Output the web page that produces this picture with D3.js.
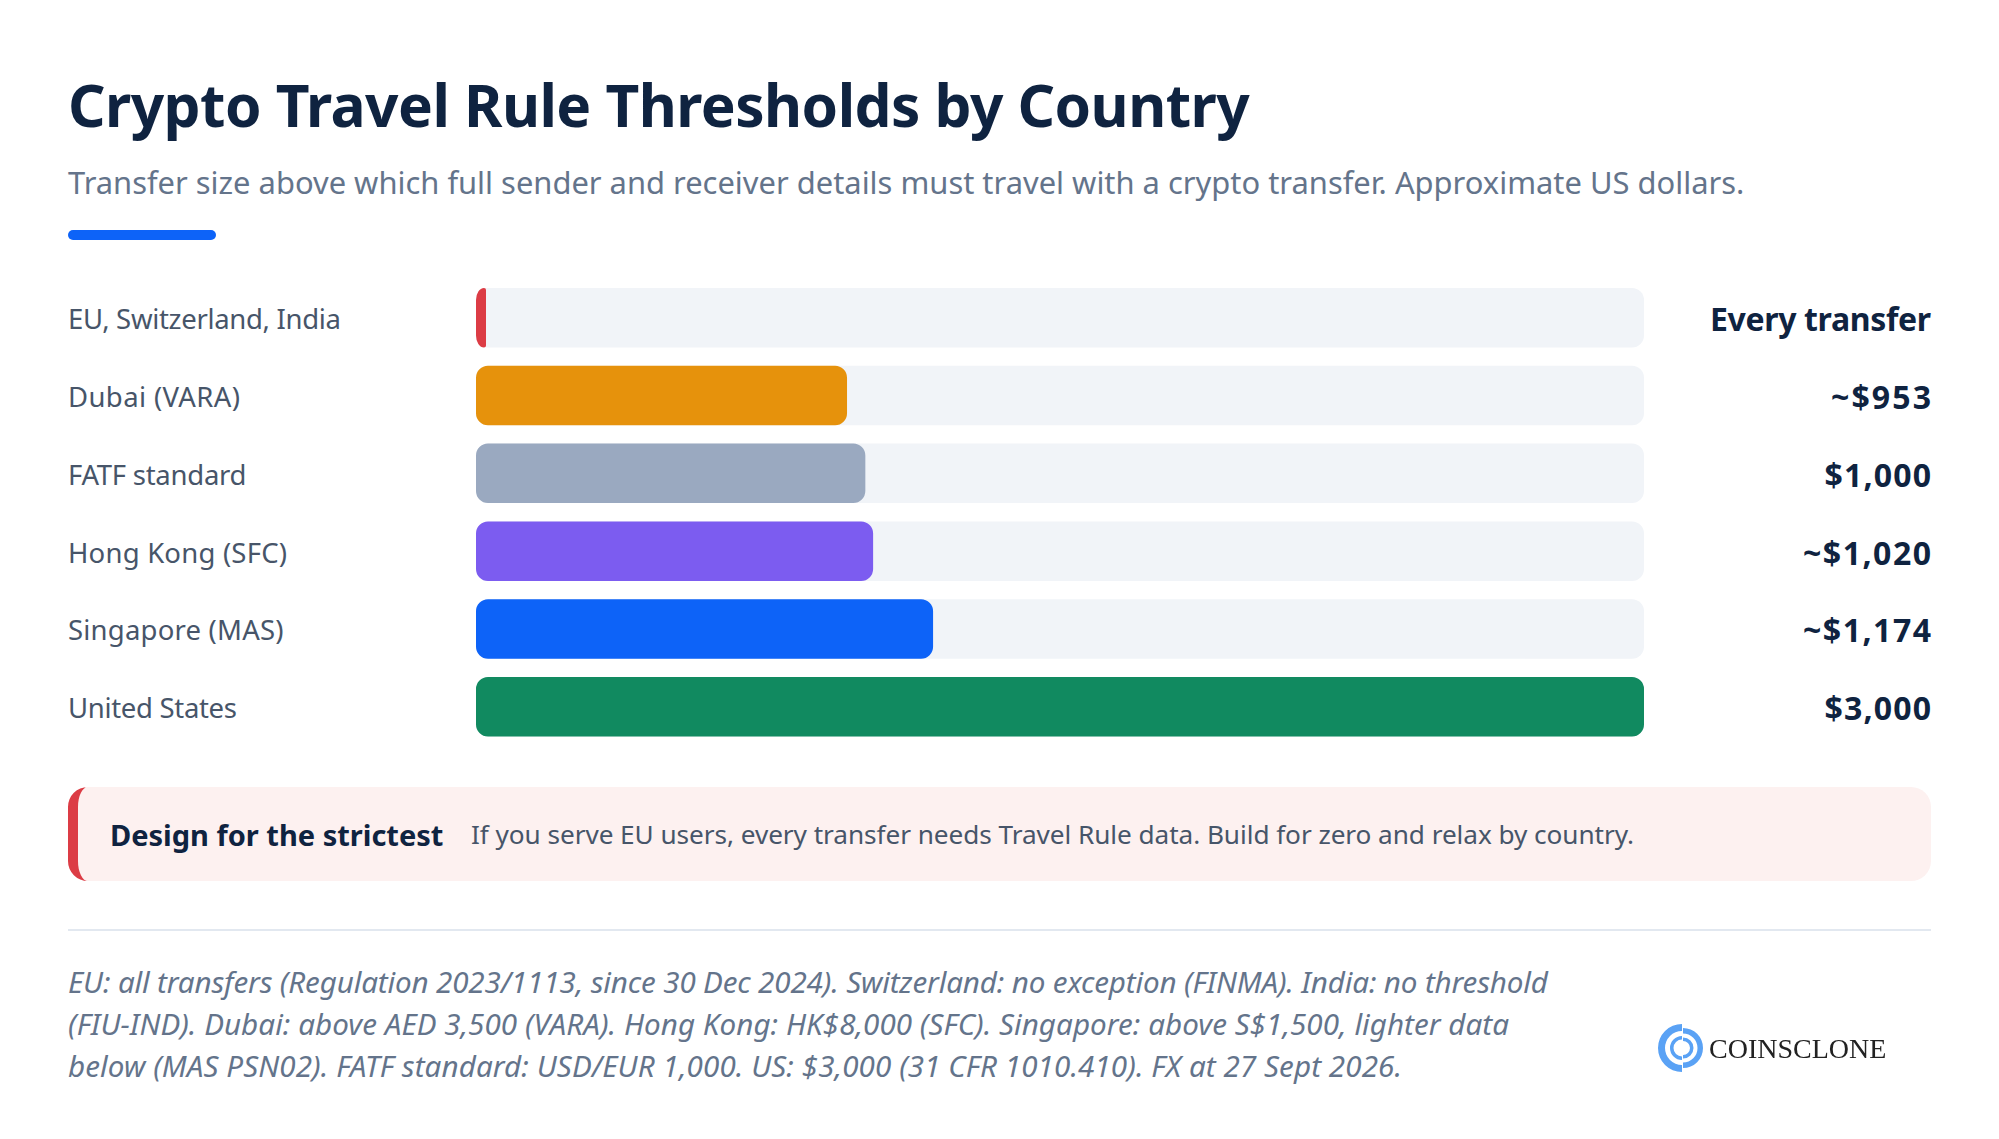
<!DOCTYPE html>
<html>
<head>
<meta charset="utf-8">
<style>
  html, body { margin: 0; padding: 0; background: #fff; }
  svg { display: block; }
  text { font-family: "Noto Sans", sans-serif; }
</style>
</head>
<body>
<svg id="chart" width="1999" height="1139"></svg>
<script src="https://cdn.jsdelivr.net/npm/d3@7/dist/d3.min.js"></script>
<script>
// ── data ────────────────────────────────────────
const countries = ["EU, Switzerland, India", "Dubai (VARA)", "FATF standard", "Hong Kong (SFC)", "Singapore (MAS)", "United States"];
const thresholds = [0, 953, 1000, 1020, 1174, 3000];
const valueLabels = ["Every transfer", "~$953", "$1,000", "~$1,020", "~$1,174", "$3,000"];
const barColors = ["#dc3c45", "#e6920c", "#9aa9c0", "#7c5cf0", "#0d63f8", "#118a60"];
const footnoteLines = [
  "EU: all transfers (Regulation 2023/1113, since 30 Dec 2024). Switzerland: no exception (FINMA). India: no threshold",
  "(FIU-IND). Dubai: above AED 3,500 (VARA). Hong Kong: HK$8,000 (SFC). Singapore: above S$1,500, lighter data",
  "below (MAS PSN02). FATF standard: USD/EUR 1,000. US: $3,000 (31 CFR 1010.410). FX at 27 Sept 2026."
];

// text run widths, the reference font is narrower in some places than Noto Sans
const labelWidths = [273, 172, 178.5, 219, 215.5, 169];
const valueWidths = [221, 100, 106.4, 128, 128, 106.4];
const footnoteWidths = [1480, 1441, 1334];

const ink = "#0f2340";
const left = 68, right = 1931;
const svg = d3.select("#chart");

// blur for the logo, it is a soft raster in the reference
svg.append("defs").append("filter").attr("id", "soft")
  .append("feGaussianBlur").attr("stdDeviation", 0.6);

// ── header ──────────────────────────────────────
svg.append("text").attr("x", left).attr("y", 127)
  .attr("font-size", 58.6).attr("font-weight", 700).attr("fill", ink)
  .attr("letter-spacing", -0.55)
  .text("Crypto Travel Rule Thresholds by Country");
svg.append("text").attr("x", left).attr("y", 194)
  .attr("font-size", 30.9).attr("fill", "#64748b")
  .text("Transfer size above which full sender and receiver details must travel with a crypto transfer. Approximate US dollars.");
svg.append("rect").attr("x", left).attr("y", 230).attr("width", 148).attr("height", 10)
  .attr("rx", 5).attr("fill", "#0d63f8");

// ── bars ────────────────────────────────────────
const x = d3.scaleLinear().domain([0, 3000]).range([476, 1644]);
const y = d3.scaleBand().domain(countries).range([288, 736.5]).paddingInner(0.235).paddingOuter(0);
const minBar = 10;

function barPath(w, h) {
  const rl = Math.min(12, w - 2), rr = Math.min(12, w / 5), ry = 12;
  return `M${x(0) + rl},0H${x(0) + w - rr}A${rr},${rr} 0 0 1 ${x(0) + w},${rr}V${h - rr}` +
    `A${rr},${rr} 0 0 1 ${x(0) + w - rr},${h}H${x(0) + rl}A${rl},${ry} 0 0 1 ${x(0)},${h - ry}V${ry}A${rl},${ry} 0 0 1 ${x(0) + rl},0Z`;
}

const rows = svg.append("g").selectAll("g").data(countries).join("g")
  .attr("transform", d => `translate(0,${y(d)})`);

rows.append("text").attr("x", left).attr("y", y.bandwidth() / 2 + 11.5)
  .attr("font-size", 27.5).attr("fill", "#475569")
  .attr("textLength", (d, i) => labelWidths[i])
  .text(d => d);

rows.append("rect").attr("x", x(0)).attr("width", x.range()[1] - x(0)).attr("height", y.bandwidth())
  .attr("rx", 12).attr("fill", "#f1f4f8");

rows.append("path")
  .attr("d", (d, i) => barPath(Math.max(minBar, x(thresholds[i]) - x(0)), y.bandwidth()))
  .attr("fill", (d, i) => barColors[i]);

rows.append("text").attr("x", right).attr("y", y.bandwidth() / 2 + 13.5)
  .attr("text-anchor", "end").attr("font-size", 32).attr("font-weight", 700).attr("fill", ink)
  .attr("textLength", (d, i) => valueWidths[i])
  .text((d, i) => valueLabels[i]);

// ── callout ─────────────────────────────────────
const boxTop = 787, boxBot = 881, r = 20, b = 10;
svg.append("rect").attr("x", left).attr("y", boxTop).attr("width", right - left).attr("height", boxBot - boxTop)
  .attr("rx", r).attr("fill", "#fdf1f0");
svg.append("path").attr("fill", "#dc3c45").attr("d",
  `M${left + r},${boxTop}A${r},${r} 0 0 0 ${left},${boxTop + r}V${boxBot - r}A${r},${r} 0 0 0 ${left + r},${boxBot}` +
  `A${r - b},${r} 0 0 1 ${left + b},${boxBot - r}V${boxTop + r}A${r - b},${r} 0 0 1 ${left + r},${boxTop}Z`);
svg.append("text").attr("x", 110).attr("y", 846)
  .attr("font-size", 29).attr("font-weight", 700).attr("fill", ink)
  .text("Design for the strictest");
svg.append("text").attr("x", 471).attr("y", 844)
  .attr("font-size", 26.2).attr("fill", "#475569").attr("textLength", 1163)
  .text("If you serve EU users, every transfer needs Travel Rule data. Build for zero and relax by country.");

// ── footer ──────────────────────────────────────
svg.append("rect").attr("x", left).attr("y", 929).attr("width", right - left).attr("height", 2).attr("fill", "#e2e8f0");
svg.append("g").selectAll("text").data(footnoteLines).join("text")
  .attr("x", left).attr("y", (d, i) => 993 + i * 41.8)
  .attr("font-size", 29.6).attr("font-style", "italic").attr("fill", "#64748b")
  .attr("textLength", (d, i) => footnoteWidths[i])
  .text(d => d);

// ── logo ────────────────────────────────────────
const logoBlue = "#5aa2f5";
const logo = svg.append("g").attr("transform", "translate(1682,1048)").attr("filter", "url(#soft)");
const arc = d3.arc();
const halves = [
  { innerRadius: 17, outerRadius: 24, startAngle: Math.PI, endAngle: 2 * Math.PI, dx: 0 },
  { innerRadius: 14.5, outerRadius: 20, startAngle: 0, endAngle: Math.PI, dx: 1 },
  { innerRadius: 8.5, outerRadius: 12, startAngle: Math.PI, endAngle: 2 * Math.PI, dx: 0 },
  { innerRadius: 7, outerRadius: 10.5, startAngle: 0, endAngle: Math.PI, dx: 1 }
];
logo.selectAll("path").data(halves).join("path")
  .attr("fill", logoBlue)
  .attr("transform", d => `translate(${d.dx},0)`)
  .attr("d", d => arc(d));
svg.append("text").attr("x", 1709).attr("y", 1058)
  .style("font-family", "Liberation Serif")
  .attr("font-size", 28).attr("fill", "#222").attr("filter", "url(#soft)").text("COINSCLONE");
</script>
</body>
</html>
